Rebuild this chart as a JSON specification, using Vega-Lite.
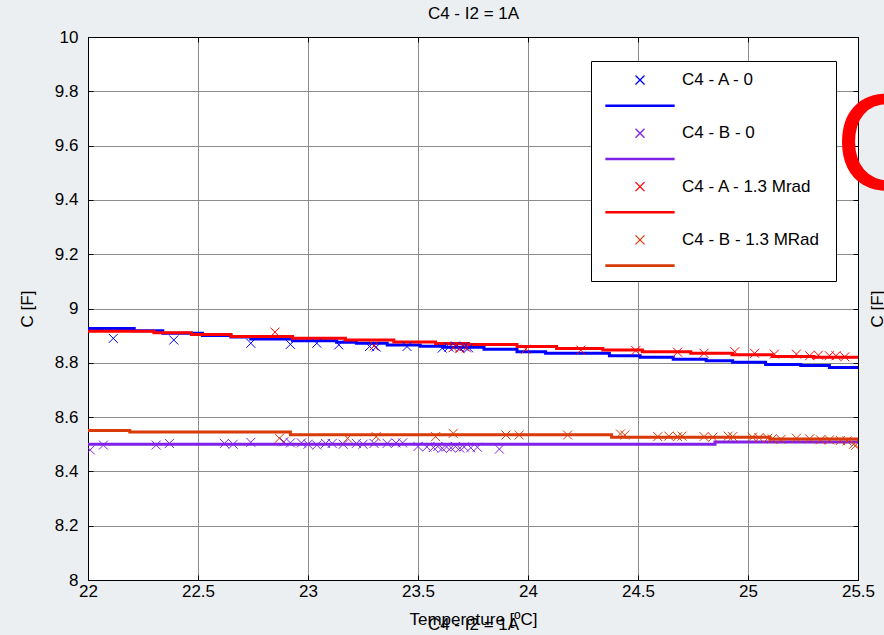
{
  "$schema": "https://vega.github.io/schema/vega-lite/v6.json",
  "width": 770,
  "height": 543,
  "autosize": {"type": "none"},
  "padding": {"left": 88, "top": 37, "right": 26, "bottom": 55},
  "background": "#eceff2",
  "title": {"text": "C", "orient": "top", "frame": "group", "anchor": "end", "align": "left", "baseline": "top", "angle": 0, "fontSize": 138, "color": "#ff0000", "font": "Liberation Sans", "fontWeight": "normal", "offset": 0, "dx": -23, "dy": 214},
  "datasets": {
    "lines": [
      {"series": "C4 - A - 0", "t": 22.00, "c": 8.926},
      {"series": "C4 - A - 0", "t": 22.21, "c": 8.918},
      {"series": "C4 - A - 0", "t": 22.34, "c": 8.909},
      {"series": "C4 - A - 0", "t": 22.52, "c": 8.901},
      {"series": "C4 - A - 0", "t": 22.65, "c": 8.895},
      {"series": "C4 - A - 0", "t": 22.74, "c": 8.888},
      {"series": "C4 - A - 0", "t": 22.93, "c": 8.881},
      {"series": "C4 - A - 0", "t": 23.13, "c": 8.876},
      {"series": "C4 - A - 0", "t": 23.22, "c": 8.872},
      {"series": "C4 - A - 0", "t": 23.36, "c": 8.866},
      {"series": "C4 - A - 0", "t": 23.51, "c": 8.861},
      {"series": "C4 - A - 0", "t": 23.62, "c": 8.857},
      {"series": "C4 - A - 0", "t": 23.80, "c": 8.850},
      {"series": "C4 - A - 0", "t": 23.95, "c": 8.841},
      {"series": "C4 - A - 0", "t": 24.08, "c": 8.835},
      {"series": "C4 - A - 0", "t": 24.37, "c": 8.826},
      {"series": "C4 - A - 0", "t": 24.51, "c": 8.820},
      {"series": "C4 - A - 0", "t": 24.66, "c": 8.813},
      {"series": "C4 - A - 0", "t": 24.81, "c": 8.808},
      {"series": "C4 - A - 0", "t": 24.93, "c": 8.802},
      {"series": "C4 - A - 0", "t": 25.08, "c": 8.794},
      {"series": "C4 - A - 0", "t": 25.24, "c": 8.790},
      {"series": "C4 - A - 0", "t": 25.37, "c": 8.783},
      {"series": "C4 - A - 0", "t": 25.50, "c": 8.783},
      {"series": "C4 - A - 1.3 Mrad", "t": 22.00, "c": 8.916},
      {"series": "C4 - A - 1.3 Mrad", "t": 22.30, "c": 8.911},
      {"series": "C4 - A - 1.3 Mrad", "t": 22.47, "c": 8.904},
      {"series": "C4 - A - 1.3 Mrad", "t": 22.65, "c": 8.897},
      {"series": "C4 - A - 1.3 Mrad", "t": 22.93, "c": 8.890},
      {"series": "C4 - A - 1.3 Mrad", "t": 23.17, "c": 8.884},
      {"series": "C4 - A - 1.3 Mrad", "t": 23.39, "c": 8.877},
      {"series": "C4 - A - 1.3 Mrad", "t": 23.58, "c": 8.871},
      {"series": "C4 - A - 1.3 Mrad", "t": 23.73, "c": 8.867},
      {"series": "C4 - A - 1.3 Mrad", "t": 23.95, "c": 8.860},
      {"series": "C4 - A - 1.3 Mrad", "t": 24.13, "c": 8.853},
      {"series": "C4 - A - 1.3 Mrad", "t": 24.34, "c": 8.847},
      {"series": "C4 - A - 1.3 Mrad", "t": 24.52, "c": 8.841},
      {"series": "C4 - A - 1.3 Mrad", "t": 24.74, "c": 8.835},
      {"series": "C4 - A - 1.3 Mrad", "t": 24.93, "c": 8.830},
      {"series": "C4 - A - 1.3 Mrad", "t": 25.11, "c": 8.823},
      {"series": "C4 - A - 1.3 Mrad", "t": 25.30, "c": 8.820},
      {"series": "C4 - A - 1.3 Mrad", "t": 25.50, "c": 8.818},
      {"series": "C4 - B - 0", "t": 22.00, "c": 8.500},
      {"series": "C4 - B - 0", "t": 24.85, "c": 8.508},
      {"series": "C4 - B - 0", "t": 25.50, "c": 8.508},
      {"series": "C4 - B - 1.3 MRad", "t": 22.00, "c": 8.551},
      {"series": "C4 - B - 1.3 MRad", "t": 22.19, "c": 8.545},
      {"series": "C4 - B - 1.3 MRad", "t": 22.92, "c": 8.535},
      {"series": "C4 - B - 1.3 MRad", "t": 24.38, "c": 8.526},
      {"series": "C4 - B - 1.3 MRad", "t": 25.10, "c": 8.519},
      {"series": "C4 - B - 1.3 MRad", "t": 25.50, "c": 8.519}
    ],
    "points": [
      {"series": "C4 - A - 0", "t": 22.115, "c": 8.890},
      {"series": "C4 - A - 0", "t": 22.39, "c": 8.884},
      {"series": "C4 - A - 0", "t": 22.74, "c": 8.872},
      {"series": "C4 - A - 0", "t": 22.92, "c": 8.868},
      {"series": "C4 - A - 0", "t": 23.04, "c": 8.872},
      {"series": "C4 - A - 0", "t": 23.14, "c": 8.866},
      {"series": "C4 - A - 0", "t": 23.28, "c": 8.860},
      {"series": "C4 - A - 0", "t": 23.31, "c": 8.858},
      {"series": "C4 - A - 0", "t": 23.45, "c": 8.860},
      {"series": "C4 - A - 0", "t": 23.61, "c": 8.854},
      {"series": "C4 - A - 0", "t": 23.64, "c": 8.858},
      {"series": "C4 - A - 0", "t": 23.67, "c": 8.862},
      {"series": "C4 - A - 0", "t": 23.69, "c": 8.855},
      {"series": "C4 - A - 0", "t": 23.71, "c": 8.860},
      {"series": "C4 - A - 0", "t": 23.73, "c": 8.855},
      {"series": "C4 - B - 0", "t": 22.01, "c": 8.479},
      {"series": "C4 - B - 0", "t": 22.07, "c": 8.497},
      {"series": "C4 - B - 0", "t": 22.31, "c": 8.497},
      {"series": "C4 - B - 0", "t": 22.37, "c": 8.503},
      {"series": "C4 - B - 0", "t": 22.62, "c": 8.503},
      {"series": "C4 - B - 0", "t": 22.66, "c": 8.500},
      {"series": "C4 - B - 0", "t": 22.74, "c": 8.507},
      {"series": "C4 - B - 0", "t": 22.89, "c": 8.509},
      {"series": "C4 - B - 0", "t": 22.92, "c": 8.505},
      {"series": "C4 - B - 0", "t": 22.97, "c": 8.505},
      {"series": "C4 - B - 0", "t": 23.00, "c": 8.500},
      {"series": "C4 - B - 0", "t": 23.04, "c": 8.497},
      {"series": "C4 - B - 0", "t": 23.08, "c": 8.503},
      {"series": "C4 - B - 0", "t": 23.11, "c": 8.503},
      {"series": "C4 - B - 0", "t": 23.16, "c": 8.500},
      {"series": "C4 - B - 0", "t": 23.22, "c": 8.503},
      {"series": "C4 - B - 0", "t": 23.25, "c": 8.500},
      {"series": "C4 - B - 0", "t": 23.30, "c": 8.503},
      {"series": "C4 - B - 0", "t": 23.36, "c": 8.503},
      {"series": "C4 - B - 0", "t": 23.40, "c": 8.505},
      {"series": "C4 - B - 0", "t": 23.43, "c": 8.505},
      {"series": "C4 - B - 0", "t": 23.50, "c": 8.492},
      {"series": "C4 - B - 0", "t": 23.54, "c": 8.490},
      {"series": "C4 - B - 0", "t": 23.57, "c": 8.488},
      {"series": "C4 - B - 0", "t": 23.59, "c": 8.492},
      {"series": "C4 - B - 0", "t": 23.61, "c": 8.485},
      {"series": "C4 - B - 0", "t": 23.63, "c": 8.490},
      {"series": "C4 - B - 0", "t": 23.65, "c": 8.487},
      {"series": "C4 - B - 0", "t": 23.67, "c": 8.492},
      {"series": "C4 - B - 0", "t": 23.69, "c": 8.486},
      {"series": "C4 - B - 0", "t": 23.71, "c": 8.490},
      {"series": "C4 - B - 0", "t": 23.74, "c": 8.487},
      {"series": "C4 - B - 0", "t": 23.77, "c": 8.489},
      {"series": "C4 - B - 0", "t": 23.87, "c": 8.482},
      {"series": "C4 - A - 1.3 Mrad", "t": 22.85, "c": 8.913},
      {"series": "C4 - A - 1.3 Mrad", "t": 23.30, "c": 8.862},
      {"series": "C4 - A - 1.3 Mrad", "t": 23.66, "c": 8.856},
      {"series": "C4 - A - 1.3 Mrad", "t": 23.69, "c": 8.852},
      {"series": "C4 - A - 1.3 Mrad", "t": 23.72, "c": 8.855},
      {"series": "C4 - A - 1.3 Mrad", "t": 23.99, "c": 8.850},
      {"series": "C4 - A - 1.3 Mrad", "t": 24.24, "c": 8.847},
      {"series": "C4 - A - 1.3 Mrad", "t": 24.49, "c": 8.845},
      {"series": "C4 - A - 1.3 Mrad", "t": 24.68, "c": 8.839},
      {"series": "C4 - A - 1.3 Mrad", "t": 24.80, "c": 8.835},
      {"series": "C4 - A - 1.3 Mrad", "t": 24.94, "c": 8.841},
      {"series": "C4 - A - 1.3 Mrad", "t": 25.03, "c": 8.835},
      {"series": "C4 - A - 1.3 Mrad", "t": 25.12, "c": 8.832},
      {"series": "C4 - A - 1.3 Mrad", "t": 25.22, "c": 8.832},
      {"series": "C4 - A - 1.3 Mrad", "t": 25.28, "c": 8.826},
      {"series": "C4 - A - 1.3 Mrad", "t": 25.32, "c": 8.828},
      {"series": "C4 - A - 1.3 Mrad", "t": 25.37, "c": 8.826},
      {"series": "C4 - A - 1.3 Mrad", "t": 25.40, "c": 8.826},
      {"series": "C4 - A - 1.3 Mrad", "t": 25.44, "c": 8.822},
      {"series": "C4 - B - 1.3 MRad", "t": 22.87, "c": 8.522},
      {"series": "C4 - B - 1.3 MRad", "t": 23.18, "c": 8.522},
      {"series": "C4 - B - 1.3 MRad", "t": 23.31, "c": 8.528},
      {"series": "C4 - B - 1.3 MRad", "t": 23.58, "c": 8.528},
      {"series": "C4 - B - 1.3 MRad", "t": 23.66, "c": 8.540},
      {"series": "C4 - B - 1.3 MRad", "t": 23.90, "c": 8.534},
      {"series": "C4 - B - 1.3 MRad", "t": 23.96, "c": 8.534},
      {"series": "C4 - B - 1.3 MRad", "t": 24.18, "c": 8.534},
      {"series": "C4 - B - 1.3 MRad", "t": 24.42, "c": 8.538},
      {"series": "C4 - B - 1.3 MRad", "t": 24.44, "c": 8.534},
      {"series": "C4 - B - 1.3 MRad", "t": 24.59, "c": 8.528},
      {"series": "C4 - B - 1.3 MRad", "t": 24.64, "c": 8.530},
      {"series": "C4 - B - 1.3 MRad", "t": 24.68, "c": 8.528},
      {"series": "C4 - B - 1.3 MRad", "t": 24.70, "c": 8.530},
      {"series": "C4 - B - 1.3 MRad", "t": 24.80, "c": 8.528},
      {"series": "C4 - B - 1.3 MRad", "t": 24.84, "c": 8.526},
      {"series": "C4 - B - 1.3 MRad", "t": 24.91, "c": 8.530},
      {"series": "C4 - B - 1.3 MRad", "t": 24.93, "c": 8.528},
      {"series": "C4 - B - 1.3 MRad", "t": 25.02, "c": 8.526},
      {"series": "C4 - B - 1.3 MRad", "t": 25.05, "c": 8.524},
      {"series": "C4 - B - 1.3 MRad", "t": 25.09, "c": 8.522},
      {"series": "C4 - B - 1.3 MRad", "t": 25.11, "c": 8.520},
      {"series": "C4 - B - 1.3 MRad", "t": 25.15, "c": 8.518},
      {"series": "C4 - B - 1.3 MRad", "t": 25.22, "c": 8.522},
      {"series": "C4 - B - 1.3 MRad", "t": 25.28, "c": 8.520},
      {"series": "C4 - B - 1.3 MRad", "t": 25.33, "c": 8.516},
      {"series": "C4 - B - 1.3 MRad", "t": 25.37, "c": 8.516},
      {"series": "C4 - B - 1.3 MRad", "t": 25.42, "c": 8.514},
      {"series": "C4 - B - 1.3 MRad", "t": 25.45, "c": 8.512},
      {"series": "C4 - B - 1.3 MRad", "t": 25.48, "c": 8.500},
      {"series": "C4 - B - 1.3 MRad", "t": 25.49, "c": 8.496}
    ]
  },
  "layer": [
    {
      "data": {"name": "lines"},
      "mark": {"type": "line", "interpolate": "step-after", "strokeWidth": 3, "clip": true},
      "encoding": {
        "x": {"field": "t", "type": "quantitative",
          "scale": {"domain": [22, 25.5], "nice": false, "zero": false},
          "axis": {"orient": "bottom", "values": [22, 22.5, 23, 23.5, 24, 24.5, 25, 25.5], "grid": true, "format": "~g",
            "title": ["Temperature [ºC]", "C4 - I2 = 1A"], "titleLineHeight": 5, "labelPadding": 8, "titlePadding": 12}},
        "y": {"field": "c", "type": "quantitative",
          "scale": {"domain": [8, 10], "nice": false, "zero": false},
          "axis": {"orient": "left", "values": [8, 8.2, 8.4, 8.6, 8.8, 9, 9.2, 9.4, 9.6, 9.8, 10], "grid": true, "format": "~g",
            "title": "C [F]", "labelPadding": 15, "titlePadding": 18}},
        "color": {"field": "series", "type": "nominal",
          "scale": {"domain": ["C4 - A - 0", "C4 - B - 0", "C4 - A - 1.3 Mrad", "C4 - B - 1.3 MRad"],
            "range": ["#0000ff", "#8020e8", "#ff0000", "#d83a08"]}}
      }
    },
    {
      "data": {"name": "points"},
      "mark": {"type": "point", "shape": "M-1,-1L1,1M-1,1L1,-1", "filled": false, "size": 81, "strokeWidth": 1, "opacity": 1, "clip": true},
      "encoding": {
        "x": {"field": "t", "type": "quantitative",
          "scale": {"domain": [22, 25.5], "nice": false, "zero": false},
          "axis": {"orient": "top", "values": [22, 22.5, 23, 23.5, 24, 24.5, 25, 25.5], "grid": false, "labels": false,
            "title": "C4 - I2 = 1A", "titlePadding": 14}},
        "y": {"field": "c", "type": "quantitative",
          "scale": {"domain": [8, 10], "nice": false, "zero": false},
          "axis": {"orient": "right", "values": [8, 8.2, 8.4, 8.6, 8.8, 9, 9.2, 9.4, 9.6, 9.8, 10], "grid": false, "labels": false,
            "title": "C [F]", "titleAngle": -90, "titlePadding": 28}},
        "color": {"field": "series", "type": "nominal",
          "scale": {"domain": ["C4 - A - 0", "C4 - B - 0", "C4 - A - 1.3 Mrad", "C4 - B - 1.3 MRad"],
            "range": ["#0000ff", "#8020e8", "#ff0000", "#d83a08"]}}
      }
    }
  ],
  "resolve": {"axis": {"x": "independent", "y": "independent"}},
  "config": {
    "font": "Liberation Sans",
    "view": {"stroke": "black", "strokeWidth": 1, "fill": "white"},
    "title": {"font": "Liberation Sans"},
    "axis": {
      "labelFont": "Liberation Sans", "labelFontSize": 17, "labelColor": "black",
      "titleFont": "Liberation Sans", "titleFontSize": 17, "titleFontWeight": "normal", "titleColor": "black",
      "domainColor": "black", "domainWidth": 1, "tickColor": "black", "tickSize": -5, "tickWidth": 1,
      "gridColor": "#8c8c8c", "gridWidth": 1, "gridOpacity": 1, "labelFlush": false, "labelOverlap": false
    },
    "legend": {"orient": "none", "legendX": 503, "legendY": 24, "title": null,
      "symbolType": "M-0.286,-1M15.64,2.414M1.822,-0.321L2.464,0.321M1.822,0.321L2.464,-0.321M-0.286,1.79L4.571,1.79L4.571,1.882L-0.286,1.882Z",
      "symbolSize": 784, "symbolStrokeWidth": 1.3, "symbolFillColor": "transparent",
      "labelFontSize": 17, "labelFont": "Liberation Sans", "labelColor": "black",
      "labelOffset": 57, "labelBaseline": "middle", "labelLimit": 300,
      "rowPadding": -0.7, "padding": 4, "strokeColor": "black", "fillColor": "white", "cornerRadius": 0}
  }
}
